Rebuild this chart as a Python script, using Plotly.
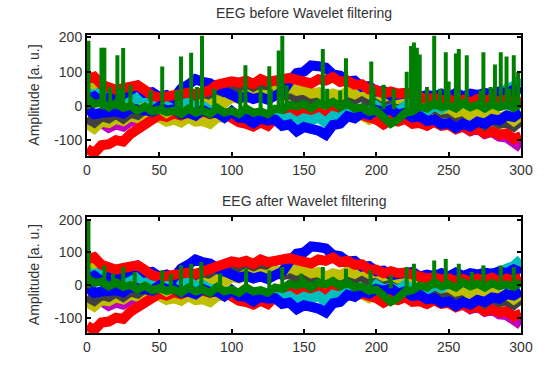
import plotly.graph_objects as go

# ---------------- data ----------------
x_grid = list(range(0, 301, 5))

red_low = [-125, -138, -115, -112, -100, -104, -82, -68, -48, -40,
           -26, -32, -22, -28, -18, -26, -16, -24, -14, -22,
           -38, -48, -52, -60, -48, -58, -36, -26, -18, -22,
           -16, -24, -20, -28, -14, -24, -18, -28, -26, -34,
           -40, -54, -42, -46, -38, -52, -50, -58, -46, -58,
           -55, -68, -60, -72, -66, -80, -74, -84, -80, -96, -88]
red_high = [78, 85, 62, 58, 47, 52, 58, 60, 46, 30,
            24, 28, 26, 32, 38, 34, 42, 46, 62, 66,
            72, 68, 74, 64, 78, 70, 74, 72, 82, 76,
            72, 66, 78, 74, 84, 70, 74, 62, 63, 48,
            47, 36, 42, 36, 38, 32, 30, 20, 24, 16,
            20, 12, 18, 10, 20, 14, 22, 10, 20, 14, 22]
blue_high = [18, 28, 12, 24, 22, 34, 42, 58, 38, 40,
             26, 32, 22, 50, 62, 78, 70, 66, 52, 40,
             30, 22, 28, 20, 26, 18, 30, 40, 72, 96,
             100, 118, 116, 112, 92, 88, 72, 74, 56, 58,
             42, 44, 30, 34, 36, 40, 26, 32, 28, 36,
             26, 38, 28, 36, 32, 38, 34, 42, 36, 48, 38]
blue_low = [-8, -24, -20, -18, -16, -22, -6, -10, -12, -16,
            -2, -14, -10, -24, -20, -28, -12, -22, -20, -34,
            -16, -34, -36, -50, -36, -42, -40, -58, -54, -74,
            -62, -66, -72, -84, -56, -52, -30, -36, -20, -26,
            -12, -18, -10, -26, -20, -34, -30, -44, -40, -54,
            -50, -64, -52, -60, -46, -52, -38, -42, -28, -32, -18]
cyan_ch = [38, 32, 42, 28, 36, 22, 30, 20, 26, 16,
           22, 14, 18, 4, 10, -4, 0, -14, -10, -24,
           -20, -28, -20, -34, -24, -30, -26, -40, -34, -48,
           -36, -42, -34, -50, -30, -36, -20, -26, -10, -18,
           0, -14, -8, -16, 0, -12, -6, -14, 0, -8,
           6, 2, 18, 12, 24, 22, 36, 32, 50, 58, 78]
magenta_ch = [-42, -54, -50, -64, -54, -60, -46, -44, -26, -24,
              -6, -4, 14, 16, 30, 24, 40, 34, 48, 44,
              58, 46, 52, 46, 54, 40, 44, 30, 34, 24,
              28, 16, 18, 6, 8, -4, -2, -14, -10, -24,
              -20, -34, -24, -30, -26, -40, -36, -48, -44, -54,
              -50, -64, -60, -74, -66, -82, -76, -90, -92, -112, -122]
yellow_high = [62, 52, 44, 26, 24, 10, 14, 0, 4, -10,
               -6, -20, -8, -16, 0, -6, 8, 2, 16, 8,
               24, 20, 34, 24, 34, 30, 44, 40, 54, 44,
               48, 36, 40, 26, 36, 30, 42, 34, 46, 34,
               38, 26, 32, 20, 24, 10, 14, 0, 4, -10,
               -6, -20, -14, -30, -22, -34, -20, -34, -28, -44, -28]
yellow_low = [-52, -66, -46, -50, -38, -44, -30, -36, -24, -36,
              -34, -46, -40, -48, -34, -46, -44, -52, -34, -34,
              -22, -26, -10, -24, -20, -34, -22, -26, -12, -22,
              -16, -28, -18, -24, -14, -30, -26, -34, -28, -40,
              -26, -30, -24, -36, -20, -26, -18, -34, -30, -46,
              -38, -48, -34, -50, -42, -52, -38, -54, -44, -50, -36]
gray_ch = [-36, -48, -30, -36, -22, -36, -20, -26, -10, -18,
           -10, -18, 0, -8, 10, 2, 20, 14, 36, 38,
           58, 54, 64, 50, 56, 42, 46, 32, 36, 22,
           26, 16, 30, 18, 24, 10, 26, 18, 28, 10,
           14, 0, 12, 4, 10, -6, 2, -14, -8, -24,
           -18, -32, -28, -44, -38, -56, -40, -52, -48, -60, -42]
green_base = [22, 6, 10, -4, 8, -6, 0, -14, -2, -16,
              -10, -18, -14, -24, -8, -20, -14, -24, -6, -20,
              -14, -24, -8, -20, -16, -24, -8, -12, 4, -2,
              6, -8, 8, 2, 12, -4, 8, -8, -4, -18,
              -14, -36, -52, -40, -20, -16, -2, -8, 8, -4,
              2, -8, 8, -4, 4, -8, 6, -4, 2, -6, 8]

# green spikes: position, peak value (before filtering)
spike_x_before = [1, 10, 12, 16, 21, 23, 25, 30, 44, 52, 62, 65, 72, 76, 79.5, 88, 106, 109.5,
                  120, 126, 127, 132.5, 135, 138, 163, 166, 175, 179, 196.5, 198, 205, 212,
                  221, 224, 226, 228, 230, 235, 240, 244, 248, 250, 255, 257, 262.5, 272,
                  274, 279, 282, 286, 290, 292, 295, 298]
spike_y_before = [190, 170, 170, 55, 148, 50, 169, 60, 45, 115, 45, 144, 155, 55, 205, 50, 45, 119,
                  55, 116, 50, 162, 205, 60, 166, 50, 45, 139, 130, 55, 62, 50,
                  100, 175, 185, 170, 150, 55, 205, 50, 157, 71, 153, 166, 148, 45,
                  157, 55, 121, 157, 144, 50, 148, 98]
# green spikes after wavelet filtering
spike_x_after = [1, 12, 18, 25, 33, 52, 58, 65, 72, 79, 92, 110, 126, 135, 148, 163, 179,
                 196, 210, 221, 226, 240, 248, 257, 266, 274, 286, 295]
spike_y_after = [200, 60, 35, 55, 40, 45, 35, 60, 65, 70, 35, 50, 45, 55, 35, 55, 50,
                 45, 30, 55, 65, 75, 80, 65, 40, 60, 60, 55]

x_tick_vals = [0, 50, 100, 150, 200, 250, 300]
x_tick_text = ["0", "50", "100", "150", "200", "250", "300"]
y_tick_vals = [-100, 0, 100, 200]
y_tick_text = ["-100", "0", "100", "200"]

titles = ["EEG before Wavelet filtering", "EEG after Wavelet filtering"]
y_title = "Amplitude [a. u.]"

# ---------------- styling ----------------
C_BLUE = "rgb(0,0,255)"
C_GREEN = "rgb(0,128,0)"
C_RED = "rgb(255,0,0)"
C_CYAN = "rgb(0,191,191)"
C_MAG = "rgb(191,0,191)"
C_YEL = "rgb(191,191,0)"
C_GRAY = "rgb(64,64,64)"

channels = [
    (magenta_ch, C_MAG),
    (yellow_low, C_YEL),
    (red_low, C_RED),
    (gray_ch, C_GRAY),
    (yellow_high, C_YEL),
    (cyan_ch, C_CYAN),
    (blue_high, C_BLUE),
    (red_high, C_RED),
    (blue_low, C_BLUE),
]

LW = 10
fig = go.Figure()

for row, (sx, sy) in enumerate([(spike_x_before, spike_y_before), (spike_x_after, spike_y_after)]):
    xa = "x" if row == 0 else "x2"
    ya = "y" if row == 0 else "y2"
    for vals, col in channels:
        fig.add_trace(go.Scatter(x=x_grid, y=vals, mode="lines", xaxis=xa, yaxis=ya,
                                 line=dict(color=col, width=LW), hoverinfo="skip",
                                 showlegend=False))
    fig.add_trace(go.Scatter(x=x_grid, y=green_base, mode="lines", xaxis=xa, yaxis=ya,
                             line=dict(color=C_GREEN, width=LW - 2), hoverinfo="skip",
                             showlegend=False))
    seg_x, seg_y = [], []
    for px, py in zip(sx, sy):
        seg_x += [px, px, None]
        seg_y += [-10, py, None]
    fig.add_trace(go.Scatter(x=seg_x, y=seg_y, mode="lines", xaxis=xa, yaxis=ya,
                             line=dict(color=C_GREEN, width=4), hoverinfo="skip",
                             showlegend=False, connectgaps=False))

axis_common = dict(showline=True, linecolor="black", linewidth=2, mirror="allticks",
                   ticks="inside", ticklen=4, tickwidth=1.5, tickcolor="black",
                   showgrid=False, zeroline=False,
                   tickfont=dict(family="Liberation Sans, Arial", size=14, color="#333"))

fig.update_layout(
    width=558, height=367,
    margin=dict(l=87, r=37, t=35, b=20),
    paper_bgcolor="white", plot_bgcolor="white",
    xaxis=dict(domain=[0, 1], anchor="y", range=[0, 300], tickvals=x_tick_vals,
               ticktext=x_tick_text, **axis_common),
    yaxis=dict(domain=[0.593, 1.0], anchor="x", range=[-147, 207], tickvals=y_tick_vals,
               ticktext=y_tick_text, **axis_common),
    xaxis2=dict(domain=[0, 1], anchor="y2", range=[0, 300], tickvals=x_tick_vals,
                ticktext=x_tick_text, **axis_common),
    yaxis2=dict(domain=[0.0, 0.388], anchor="x2", range=[-147, 207], tickvals=y_tick_vals,
                ticktext=y_tick_text, **axis_common),
)

ann_font = dict(family="Liberation Sans, Arial", size=14, color="#333")
fig.add_annotation(text=titles[0], xref="paper", yref="paper", x=0.5, y=1.0, yshift=22,
                   showarrow=False, font=ann_font, yanchor="middle")
fig.add_annotation(text=titles[1], xref="paper", yref="paper", x=0.5, y=0.388, yshift=16,
                   showarrow=False, font=ann_font, yanchor="middle")
for yc in [(0.593 + 1.0) / 2, 0.388 / 2]:
    fig.add_annotation(text=y_title, xref="paper", yref="paper", x=0, y=yc, xshift=-53,
                       showarrow=False, font=ann_font, textangle=-90,
                       xanchor="center", yanchor="middle")

fig.write_html("out.html")
